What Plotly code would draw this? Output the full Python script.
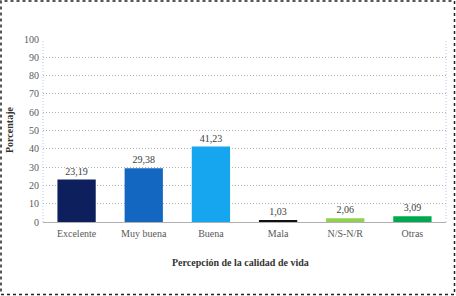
import plotly.graph_objects as go

categories = ["Excelente", "Muy buena", "Buena", "Mala", "N/S-N/R", "Otras"]
values = [23.19, 29.38, 41.23, 1.03, 2.06, 3.09]
labels = ["23,19", "29,38", "41,23", "1,03", "2,06", "3,09"]
colors = ["#0d1f5c", "#1467c0", "#16a6f0", "#111111", "#92d050", "#00a94f"]
y_ticks = [0, 10, 20, 30, 40, 50, 60, 70, 80, 90, 100]

font_family = "Liberation Serif, Times New Roman, serif"

fig = go.Figure(go.Bar(
    x=categories, y=values, marker=dict(color=colors, line=dict(width=0)),
    text=labels, textposition="outside", cliponaxis=False,
    textfont=dict(family=font_family, size=10, color="#404040"),
))

PW, PH = 403, 183

fig.update_layout(
    width=456, height=296,
    margin=dict(l=43, r=10, t=39, b=74, autoexpand=False),
    paper_bgcolor="white", plot_bgcolor="white",
    bargap=0.43, showlegend=False,
    font=dict(family=font_family, size=10, color="#595959"),
    xaxis=dict(
        automargin=False,
        showgrid=False, showline=False, ticks="", ticklabelstandoff=4,
        tickfont=dict(family=font_family, size=10, color="#595959"),
    ),
    yaxis=dict(
        automargin=False,
        range=[0, 100], tickvals=y_ticks, ticktext=[str(v) for v in y_ticks],
        showgrid=True, gridcolor="#b0b0b0", griddash="1px,2px", gridwidth=1,
        zeroline=True, zerolinecolor="#b0b0b0", zerolinewidth=1,
        showline=False, ticks="", ticklabelstandoff=3,
        tickfont=dict(family=font_family, size=10, color="#595959"),
    ),
    annotations=[
        dict(text="<b>Percepción de la calidad de vida</b>", xref="paper", yref="paper",
             x=(240 - 43) / PW, y=-(262 - 222) / PH, xanchor="center", yanchor="middle",
             showarrow=False, font=dict(family=font_family, size=10, color="#333333")),
        dict(text="<b>Porcentaje</b>", xref="paper", yref="paper",
             x=-(43 - 9) / PW, y=(222 - 130) / PH, xanchor="center", yanchor="middle",
             textangle=-90, showarrow=False,
             font=dict(family=font_family, size=10, color="#333333")),
    ],
    shapes=[
        dict(type="line", xref="paper", yref="paper", x0=0, x1=0, y0=0, y1=1,
             line=dict(color="#b4c7e7", width=1, dash="1px,2px")),
        dict(type="line", xref="paper", yref="paper", x0=1, x1=1, y0=0, y1=1,
             line=dict(color="#b4c7e7", width=1, dash="1px,2px")),
        dict(type="rect", xref="paper", yref="paper",
             x0=-42/PW, x1=1 + 8.5/PW, y0=-72.5/PH, y1=1 + 38/PH,
             line=dict(color="#222222", width=1.5, dash="dot")),
    ],
)

fig.write_html("out.html", config={"displayModeBar": False},
               post_script="document.body.style.margin='0';document.body.style.overflow='hidden';")
